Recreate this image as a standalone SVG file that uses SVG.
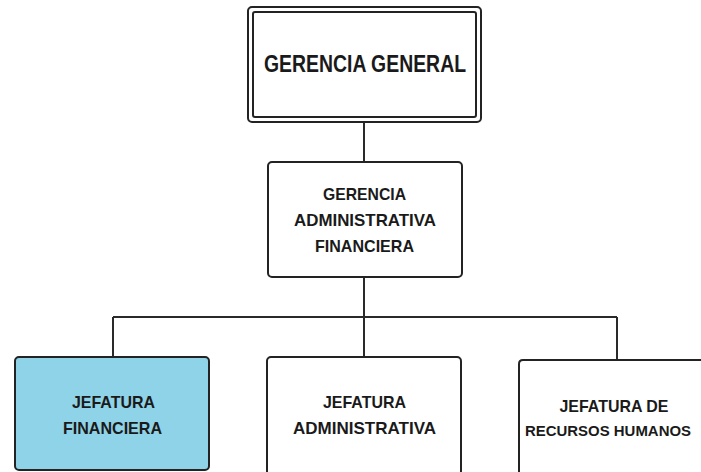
<svg xmlns="http://www.w3.org/2000/svg" width="701" height="472" viewBox="0 0 701 472">
<style>
.box{fill:#ffffff;stroke:#232323;stroke-width:2}
.blue{fill:#8fd3e8;stroke:#232323;stroke-width:2}
.t{font-family:"Liberation Sans",Arial,sans-serif;font-weight:bold;font-size:17px;fill:#1a1a1a;text-anchor:middle}
.big{font-size:24px}
.sm{font-size:15.5px}
.con{fill:none;stroke:#2a2a2a;stroke-width:2}
</style>
<rect width="701" height="472" fill="#ffffff"/>
<g id="connectors">
<path class="con" d="M364,122 V162"/>
<path class="con" d="M364,277 V317"/>
<path class="con" d="M113,317 H617"/>
<path class="con" d="M113,317 V357"/>
<path class="con" d="M364,317 V357"/>
<path class="con" d="M617,317 V360"/>
</g>
<g id="gerencia-general">
<rect class="box" x="248" y="7" width="233" height="115" rx="4"/>
<rect class="box" x="253" y="12" width="223" height="105" rx="2"/>
<text class="t big" x="365" y="72" textLength="202" lengthAdjust="spacingAndGlyphs">GERENCIA GENERAL</text>
</g>
<g id="gerencia-administrativa-financiera">
<rect class="box" x="268" y="162" width="194" height="115" rx="4"/>
<text class="t" x="364.5" y="200" textLength="83" lengthAdjust="spacingAndGlyphs">GERENCIA</text>
<text class="t" x="365" y="226" textLength="142" lengthAdjust="spacingAndGlyphs">ADMINISTRATIVA</text>
<text class="t" x="364.5" y="252" textLength="99" lengthAdjust="spacingAndGlyphs">FINANCIERA</text>
</g>
<g id="jefatura-financiera">
<rect class="blue" x="15" y="357" width="194" height="113" rx="4"/>
<text class="t" x="113.5" y="408" textLength="83" lengthAdjust="spacingAndGlyphs">JEFATURA</text>
<text class="t" x="112.5" y="434" textLength="99" lengthAdjust="spacingAndGlyphs">FINANCIERA</text>
</g>
<g id="jefatura-administrativa">
<rect class="box" x="267" y="357" width="194" height="118" rx="4"/>
<text class="t" x="364.5" y="408" textLength="83" lengthAdjust="spacingAndGlyphs">JEFATURA</text>
<text class="t" x="364.5" y="434" textLength="143" lengthAdjust="spacingAndGlyphs">ADMINISTRATIVA</text>
</g>
<g id="jefatura-recursos-humanos">
<path class="box" d="M701,360 H523 Q519,360 519,364 V474"/>
<text class="t" x="614" y="412" textLength="109" lengthAdjust="spacingAndGlyphs">JEFATURA DE</text>
<text class="t sm" x="608" y="436" textLength="166" lengthAdjust="spacingAndGlyphs">RECURSOS HUMANOS</text>
</g>
</svg>
